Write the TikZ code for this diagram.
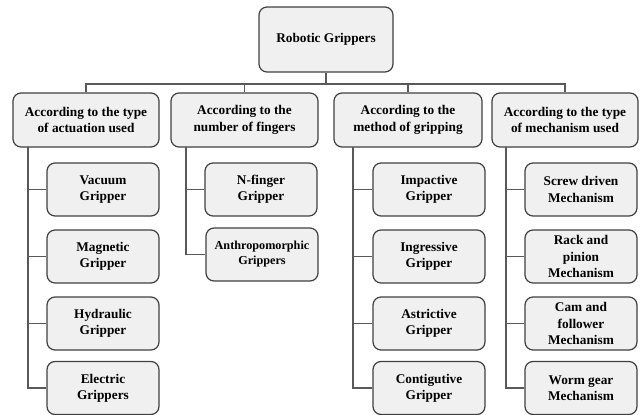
\documentclass[tikz,border=0pt]{standalone}
\usepackage{fontspec}
\setmainfont{Liberation Serif}
\begin{document}
\begin{tikzpicture}[x=1pt,y=-1pt,
  box/.style={draw=black!75, line width=1.2pt, fill=black!6, rounded corners=8pt,
    align=center, inner sep=1pt, font=\fontsize{13.3}{16.3}\selectfont\bfseries},
  conn/.style={draw=black!65, line width=1.1pt}]
\useasboundingbox (0,0) rectangle (640,415);
\node[box, minimum width=134pt, minimum height=65pt] (root) at (326,39.5) {Robotic Grippers};
\node[box, minimum width=146pt, minimum height=54pt] (a1) at (86,120) {According to the type\\of actuation used};
\node[box, minimum width=147pt, minimum height=54pt] (a2) at (244.5,120) {According to the\\number of fingers};
\node[box, minimum width=148pt, minimum height=54pt] (a3) at (408,120) {According to the\\method of gripping};
\node[box, minimum width=146pt, minimum height=54pt] (a4) at (565,120) {According to the type\\of mechanism used};
\coordinate (bus) at (326,84);
\draw[conn] (root.south) -- (bus);
\draw[conn] (a1.north) |- (bus) -| (a4.north);
\draw[conn] (a2.north) -- (a2.north |- bus);
\draw[conn] (a3.north) -- (a3.north |- bus);
% children
\tikzset{child/.style={box, minimum width=112pt, minimum height=53pt}}
\node[child] (c11) at (103,189.5) {Vacuum\\Gripper};
\node[child] (c12) at (103,256.5) {Magnetic\\Gripper};
\node[child] (c13) at (103,323.5) {Hydraulic\\Gripper};
\node[child] (c14) at (103,388) {Electric\\Grippers};
\node[child] (c21) at (261,189.5) {N-finger\\Gripper};
\node[child, font=\fontsize{12.2}{15}\selectfont\bfseries] (c22) at (262,254.5) {Anthropomorphic\\Grippers};
\node[child] (c31) at (429,189.5) {Impactive\\Gripper};
\node[child] (c32) at (429,256.5) {Ingressive\\Gripper};
\node[child] (c33) at (429,323.5) {Astrictive\\Gripper};
\node[child] (c34) at (429,388) {Contigutive\\Gripper};
\node[child] (c41) at (581,189.5) {Screw driven\\Mechanism};
\node[child] (c42) at (581,256.5) {Rack and\\pinion\\Mechanism};
\node[child] (c43) at (581,323.5) {Cam and\\follower\\Mechanism};
\node[child] (c44) at (581,388) {Worm gear\\Mechanism};
\coordinate (v1) at (28,147);
\coordinate (v2) at (186,147);
\coordinate (v3) at (353,147);
\coordinate (v4) at (506,147);
\foreach \c in {c11,c12,c13,c14} \draw[conn] (v1) |- (\c.west);
\foreach \c in {c21,c22} \draw[conn] (v2) |- (\c.west);
\foreach \c in {c31,c32,c33,c34} \draw[conn] (v3) |- (\c.west);
\foreach \c in {c41,c42,c43,c44} \draw[conn] (v4) |- (\c.west);
\end{tikzpicture}
\end{document}
